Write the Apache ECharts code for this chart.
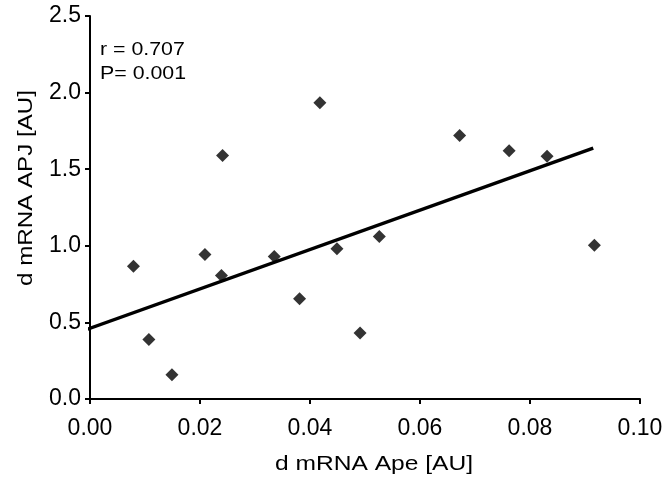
<!DOCTYPE html>
<html>
<head>
<meta charset="utf-8">
<script src="https://cdn.jsdelivr.net/npm/echarts@6/dist/echarts.min.js"></script>
<style>html,body{margin:0;padding:0;background:#fff}#c{width:669px;height:485px}</style>
</head>
<body>
<div id="c"></div>
<script>
const apeValues = [0.0079, 0.0107, 0.0149, 0.0209, 0.0239, 0.0241, 0.0335, 0.0381, 0.0418, 0.0449, 0.0491, 0.0526, 0.0672, 0.0762, 0.0831, 0.0917];
const apjValues = [0.867, 0.389, 0.158, 0.943, 0.806, 1.589, 0.930, 0.654, 1.933, 0.980, 0.430, 1.061, 1.720, 1.620, 1.585, 1.004];
const fitX = [-0.0016, 0.0915];
const fitY = [0.441, 1.637];
const xTicks = ['0.00', '0.02', '0.04', '0.06', '0.08', '0.10'];
const yTicks = ['0.0', '0.5', '1.0', '1.5', '2.0', '2.5'];
const statsText = ['r = 0.707', 'P= 0.001'];

const font = 'Liberation Sans, Arial, sans-serif';
const chart = echarts.init(document.getElementById('c'), null, {renderer: 'canvas'});
chart.setOption({
  animation: false,
  backgroundColor: '#fff',
  grid: {left: 90, right: 29, top: 16, bottom: 86, containLabel: false},
  xAxis: {
    type: 'value', min: 0, max: 0.1, interval: 0.02,
    axisLine: {show: true, lineStyle: {color: '#000', width: 2}},
    axisTick: {show: true, length: 5, lineStyle: {color: '#000', width: 2}},
    splitLine: {show: false},
    axisLabel: {color: '#000', fontSize: 23, fontFamily: font, margin: 18,
      formatter: (v) => xTicks[Math.round(v / 0.02)]}
  },
  yAxis: {
    type: 'value', min: 0, max: 2.5, interval: 0.5,
    axisLine: {show: true, lineStyle: {color: '#000', width: 2}},
    axisTick: {show: true, length: 5, lineStyle: {color: '#000', width: 2}},
    splitLine: {show: false},
    axisLabel: {color: '#000', fontSize: 23, fontFamily: font, margin: 9,
      formatter: (v) => yTicks[Math.round(v / 0.5)]}
  },
  graphic: [
    {type: 'text', x: 275, y: 454, scaleX: 1.17, scaleY: 1,
      style: {text: 'd mRNA Ape [AU]', fontSize: 21, fontFamily: font, fill: '#000', align: 'left', verticalAlign: 'top'}},
    {type: 'text', x: 16, y: 286, rotation: Math.PI / 2, scaleX: 1.15, scaleY: 1,
      style: {text: 'd mRNA APJ [AU]', fontSize: 21, fontFamily: font, fill: '#000', align: 'left', verticalAlign: 'top'}},
    {type: 'text', x: 100, y: 38, scaleX: 1.22, scaleY: 1,
      style: {text: statsText.join('\n'), fontSize: 17.5, lineHeight: 24, fontFamily: font, fill: '#000', align: 'left', verticalAlign: 'top'}}
  ],
  series: [
    {
      type: 'line', data: fitX.map((x, i) => [x, fitY[i]]), symbol: 'none', clip: false,
      lineStyle: {color: '#000', width: 3.5}, z: 2
    },
    {
      type: 'scatter', data: apeValues.map((x, i) => [x, apjValues[i]]),
      symbol: 'diamond', symbolSize: 13, itemStyle: {color: '#000'}, z: 3
    }
  ]
});
</script>
</body>
</html>
